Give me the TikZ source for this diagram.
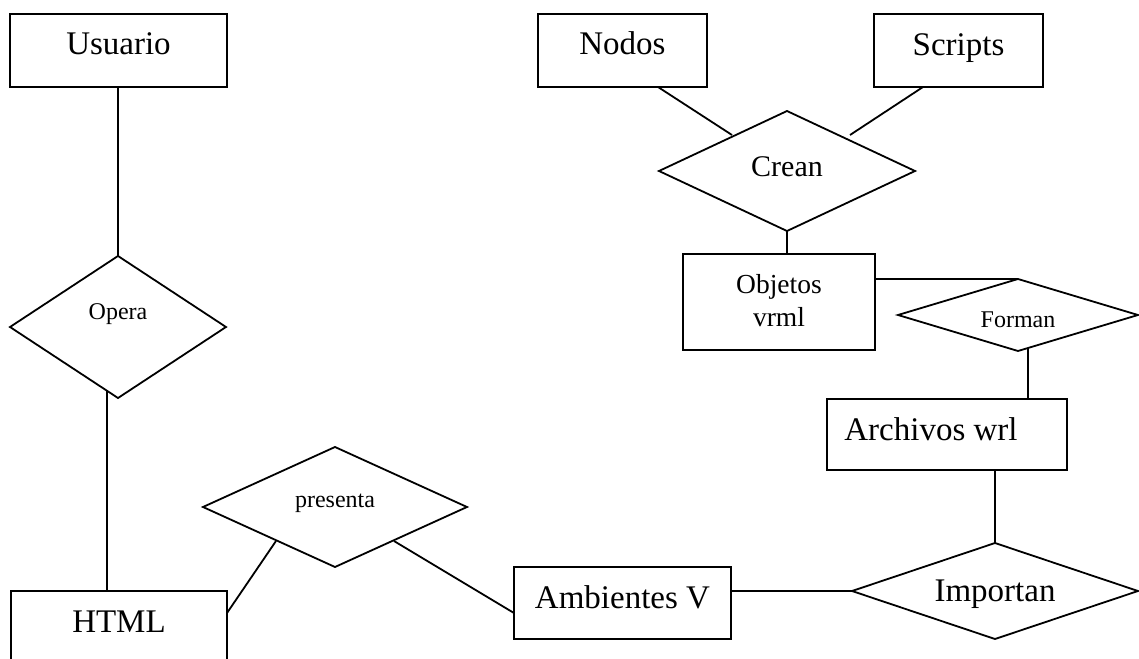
\documentclass[tikz,border=0pt]{standalone}
\usepackage{fontspec}
\setmainfont{Liberation Serif}
\usetikzlibrary{shapes.geometric,calc}
\newcommand{\tx}[2]{\raisebox{#1}[0pt][0pt]{#2}}
\tikzset{
  ent/.style 2 args={draw, rectangle, inner sep=0pt, outer sep=0pt,
    minimum width=#1*0.5pt, minimum height=#2*0.5pt},
  rel/.style 2 args={draw, diamond, aspect=2, inner sep=0pt, outer sep=0pt,
    minimum width=#1*0.5pt, minimum height=#2*0.5pt},
  big/.style={font=\fontsize{16.5pt}{20pt}\selectfont},
  mid/.style={font=\fontsize{15pt}{18pt}\selectfont},
  obj/.style={font=\fontsize{13.75pt}{16.7pt}\selectfont},
  small/.style={font=\fontsize{12pt}{14pt}\selectfont}
}
\begin{document}
\begin{tikzpicture}[x=0.5pt,y=-0.5pt,line width=0.9pt]
\useasboundingbox (0,0) rectangle (1139,658);
\clip (0,0) rectangle (1139,658);
% entities
\node[ent={217}{73},big] (usuario) at (118.5,50.5) {\tx{-2.25pt}{Usuario}};
\node[ent={169}{73},big] (nodos) at (622.5,50.5) {\tx{-2.25pt}{Nodos}};
\node[ent={169}{73},big] (scripts) at (958.5,50.5) {\tx{-2.5pt}{Scripts}};
\node[ent={192}{96},obj] (objetos) at (779,302) {\tx{-12.35pt}{\begin{tabular}[b]{@{}c@{}}Objetos\\vrml\end{tabular}}};
\node[ent={240}{71},big] (archivos) at (947,434.5) {\tx{-3.1pt}{\kern-8pt Archivos wrl\kern8pt}};
\node[ent={217}{72},big] (amb) at (622.5,603) {\tx{-2.65pt}{Ambientes V}};
\node[ent={216}{73},big] (html) at (119,627.5) {\tx{-2.4pt}{HTML}};
% relationships
\node[rel={216}{142},small] (opera) at (118,327) {\tx{3.85pt}{Opera}};
\node[rel={256}{120},mid] (crean) at (787,171) {\tx{-2.85pt}{Crean}};
\node[rel={240}{72},small] (forman) at (1018,315) {\tx{-6.15pt}{Forman}};
\node[rel={264}{120},small] (presenta) at (335,507) {\tx{-0.15pt}{presenta}};
\node[rel={286}{96},big] (importan) at (995,591) {\tx{-5.35pt}{Importan}};
% connectors
\draw (usuario.south -| opera.north) -- (opera.north);
\coordinate (o1) at ($(opera.south)+(-11,-7)$);
\draw (o1) -- (o1 |- html.north);
\draw ($(html.east)+(0,-14.5)$) -- ($(presenta.center)+(-59,34)$);
\draw ($(presenta.center)+(59,34)$) -- ($(amb.west)+(0,10)$);
\draw ($(amb.east)+(0,-12)$) -- (importan.west);
\draw (archivos.south -| importan.north) -- (importan.north);
\coordinate (f1) at ($(forman.south)+(10,-3)$);
\draw (f1) -- (f1 |- archivos.north);
\draw (forman.north -| objetos.east) -- (forman.north);
\draw (crean.south) -- (crean.south |- objetos.north);
\draw ($(nodos.south)+(35.5,0)$) -- ($(crean.center)+(-55,-36)$);
\draw ($(scripts.south)+(-35.5,0)$) -- ($(crean.center)+(63,-36)$);
\end{tikzpicture}
\end{document}
